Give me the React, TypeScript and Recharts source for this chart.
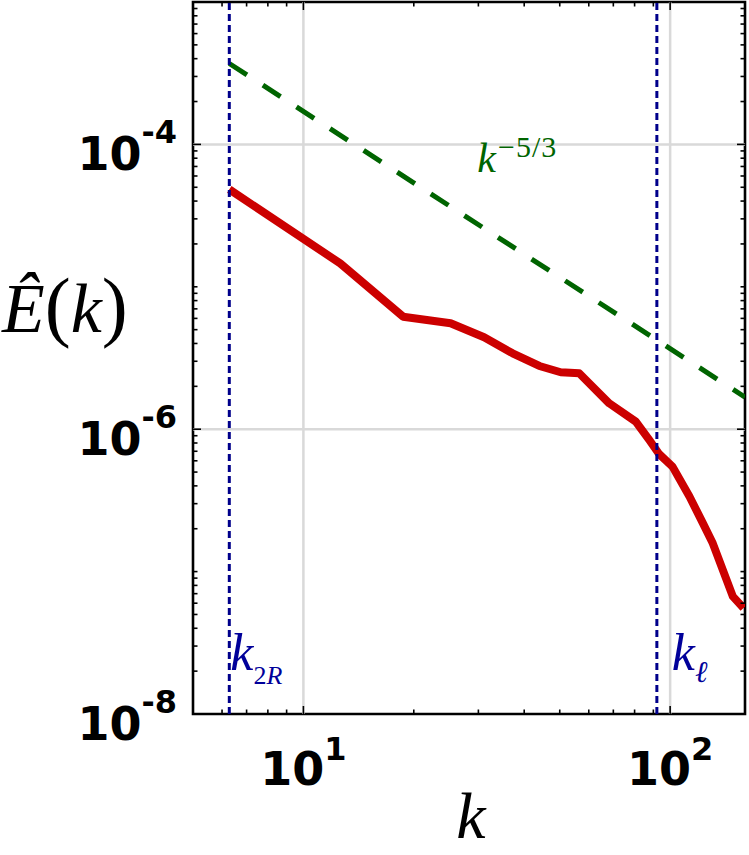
import { LineChart, Line, XAxis, YAxis, ReferenceLine, ReferenceArea, ReferenceDot } from "recharts";

// spectrum (k, E(k))
const K_SPEC = [6.28, 12.6, 18.7, 25.2, 31.1, 37.2, 44, 50.3, 56.5, 68.2, 80.6, 87.7, 93.3, 101.5, 112.9, 122.8, 130.7, 148.2, 158.5];
const E_SPEC = [4.83e-5, 1.46e-5, 6.17e-6, 5.55e-6, 4.42e-6, 3.41e-6, 2.78e-6, 2.51e-6, 2.47e-6, 1.52e-6, 1.13e-6, 8.4e-7, 6.7e-7, 5.46e-7, 3.37e-7, 2.19e-7, 1.58e-7, 6.7e-8, 5.55e-8];

// k^-5/3 guide line end points
const K_GUIDE = [6.28, 160];
const E_GUIDE = [3.7e-4, 1.68e-6];

const K_2R = 6.28;
const K_ELL = 92;

const X_DOMAIN = [5, 160];
const Y_DOMAIN = [1e-8, 1e-3];

const X_MAJOR = [10, 100];
const X_TICK_EXP = ["1", "2"];
const X_MINOR = [5, 6, 7, 8, 9, 20, 30, 40, 50, 60, 70, 80, 90];

const Y_LABELED = [1e-8, 1e-6, 1e-4];
const Y_TICK_EXP = ["-8", "-6", "-4"];
const Y_DECADES = [1e-8, 1e-7, 1e-6, 1e-5, 1e-4];
const MULT = [1, 2, 3, 4, 5, 6, 7, 8, 9];

const spectrum = K_SPEC.map((k, i) => ({ k, E: E_SPEC[i] }));
const guide = K_GUIDE.map((k, i) => ({ k, E: E_GUIDE[i] }));
const xTicks = [...X_MINOR, ...X_MAJOR].sort((a, b) => a - b);
const yTicks = [...Y_DECADES.flatMap((d) => MULT.map((m) => m * d)), 1e-3];

const W = 749;
const H = 855;
const TOP = 2;
const LEFT = 193;
const RIGHT = 745;
const BOTTOM = 714;

const TICK_FONT = "'DejaVu Sans', sans-serif";
const MATH_FONT = "'Liberation Serif', 'DejaVu Serif', serif";

function XTick(props: any) {
  const c = props.payload.coordinate;
  const i = X_MAJOR.indexOf(props.payload.value);
  const len = i >= 0 ? 8 : 4.5;
  return (
    <g>
      <line x1={c} x2={c} y1={BOTTOM} y2={BOTTOM - len} stroke="#000" strokeWidth={1.6} />
      <line x1={c} x2={c} y1={TOP} y2={TOP + len} stroke="#000" strokeWidth={1.6} />
      {i >= 0 && (
        <text x={c} y={785} textAnchor="middle" fontFamily={TICK_FONT} fontWeight="bold" fontSize={46} fill="#000">
          10<tspan dy={-25} fontSize={32}>{X_TICK_EXP[i]}</tspan>
        </text>
      )}
    </g>
  );
}

function YTick(props: any) {
  const c = props.payload.coordinate;
  const v = props.payload.value;
  const i = Y_LABELED.findIndex((l) => Math.abs(v / l - 1) < 1e-6);
  const len = i >= 0 ? 8 : 4.5;
  return (
    <g>
      <line x1={LEFT} x2={LEFT + len} y1={c} y2={c} stroke="#000" strokeWidth={1.6} />
      <line x1={RIGHT} x2={RIGHT - len} y1={c} y2={c} stroke="#000" strokeWidth={1.6} />
      {i >= 0 && (
        <text x={177} y={c + 26} textAnchor="end" fontFamily={TICK_FONT} fontWeight="bold" fontSize={46} fill="#000">
          10<tspan dy={-27} fontSize={32}>{Y_TICK_EXP[i]}</tspan>
        </text>
      )}
    </g>
  );
}

export default function App() {
  return (
    <div style={{ position: "absolute", left: 0, top: 0, width: W, height: H, background: "#fff" }}>
      <LineChart width={W} height={H} margin={{ top: TOP, right: W - RIGHT, bottom: 0, left: 0 }}>
        <XAxis
          dataKey="k"
          type="number"
          scale="log"
          domain={X_DOMAIN}
          allowDataOverflow
          ticks={xTicks}
          interval={0}
          height={H - BOTTOM}
          axisLine={false}
          tickLine={false}
          tick={(p: any) => <XTick {...p} />}
          label={() => (
            <text x={471} y={838} textAnchor="middle" fontFamily={MATH_FONT} fontStyle="italic" fontSize={66} fill="#000">
              k
            </text>
          )}
        />
        <YAxis
          type="number"
          scale="log"
          domain={Y_DOMAIN}
          allowDataOverflow
          ticks={yTicks}
          interval={0}
          width={LEFT}
          axisLine={false}
          tickLine={false}
          tick={(p: any) => <YTick {...p} />}
          label={() => (
            <text x={2} y={332} fontFamily={MATH_FONT} fontSize={70} fill="#000">
              <tspan fontStyle="italic">Ê</tspan>
              <tspan fontSize={78}>(</tspan>
              <tspan fontStyle="italic">k</tspan>
              <tspan fontSize={78}>)</tspan>
            </text>
          )}
        />
        <ReferenceLine x={10} stroke="#d9d9d9" strokeWidth={2.5} />
        <ReferenceLine x={100} stroke="#d9d9d9" strokeWidth={2.5} />
        <ReferenceLine y={1e-4} stroke="#d9d9d9" strokeWidth={2.5} />
        <ReferenceLine y={1e-6} stroke="#d9d9d9" strokeWidth={2.5} />
        <Line
          data={guide}
          dataKey="E"
          type="linear"
          stroke="#006400"
          strokeWidth={5}
          strokeDasharray="21 19"
          dot={false}
          isAnimationActive={false}
        />
        <Line
          data={spectrum}
          dataKey="E"
          type="linear"
          stroke="#cc0000"
          strokeWidth={8}
          strokeLinejoin="round"
          dot={false}
          isAnimationActive={false}
        />
        <ReferenceLine
          x={K_2R}
          stroke="#00008b"
          strokeWidth={3}
          strokeDasharray="7 4"
          label={(p: any) => (
            <text x={p.viewBox.x + 1} y={670} fontFamily={MATH_FONT} fill="#00009a">
              <tspan fontStyle="italic" fontSize={52}>k</tspan>
              <tspan dy={14} fontSize={26}>2</tspan>
              <tspan fontStyle="italic" fontSize={26}>R</tspan>
            </text>
          )}
        />
        <ReferenceLine
          x={K_ELL}
          stroke="#00008b"
          strokeWidth={3}
          strokeDasharray="7 4"
          label={(p: any) => (
            <text x={p.viewBox.x + 15} y={670} fontFamily={MATH_FONT} fill="#00009a">
              <tspan fontStyle="italic" fontSize={52}>k</tspan>
              <tspan dy={12} fontStyle="italic" fontSize={30}>ℓ</tspan>
            </text>
          )}
        />
        <ReferenceDot
          x={29.8}
          y={6.4e-5}
          r={0}
          stroke="none"
          fill="none"
          label={(p: any) => (
            <text x={p.viewBox.x} y={p.viewBox.y} fontFamily={MATH_FONT} fill="#006400">
              <tspan fontStyle="italic" fontSize={42}>k</tspan>
              <tspan dx={2} dy={-15} fontSize={30} letterSpacing={1}>−5/3</tspan>
            </text>
          )}
        />
        <ReferenceArea
          x1={X_DOMAIN[0]}
          x2={X_DOMAIN[1]}
          y1={Y_DOMAIN[0]}
          y2={Y_DOMAIN[1]}
          fill="none"
          stroke="#000"
          strokeWidth={2.6}
        />
      </LineChart>
    </div>
  );
}
